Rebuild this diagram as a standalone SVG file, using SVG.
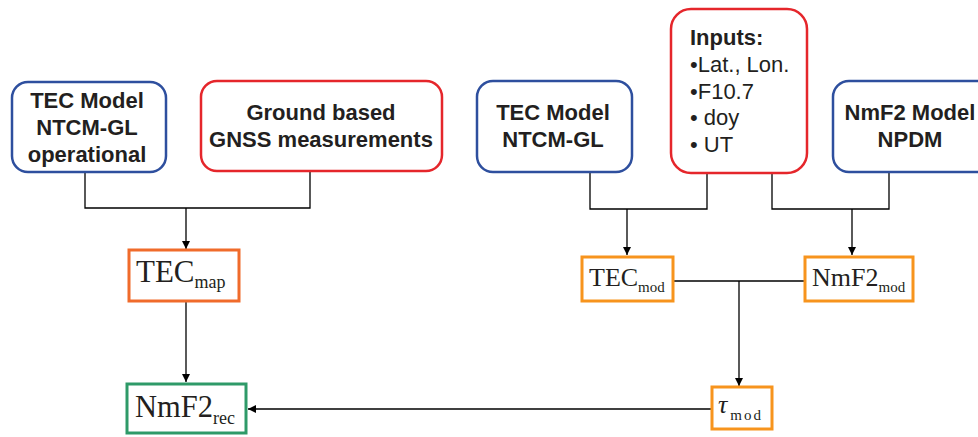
<svg xmlns="http://www.w3.org/2000/svg" width="978" height="437" viewBox="0 0 978 437">
<defs>
<marker id="ah" viewBox="0 0 10 10" refX="10" refY="5" markerWidth="8" markerHeight="8" markerUnits="userSpaceOnUse" orient="auto">
<path d="M0,0 L10,5 L0,10 z" fill="#000"/>
</marker>
</defs>
<style>
.rb{fill:#fff;stroke-width:2.5}
.blue{stroke:#2e4f9e}
.red{stroke:#e5262b}
.sq{fill:#fff;stroke-width:3}
.t{font-family:"Liberation Sans",Arial,sans-serif;font-weight:bold;font-size:22px;fill:#231f20;text-anchor:middle}
.l{font-family:"Liberation Sans",Arial,sans-serif;font-size:22px;fill:#231f20}
.s{font-family:"Liberation Serif","Times New Roman",serif;fill:#231f20}
.c{fill:none;stroke:#000;stroke-width:1.3}
</style>
<rect width="978" height="437" fill="#fff"/>
<g id="connectors">
<polyline class="c" points="85,172 85,208 310,208 310,171"/>
<line class="c" x1="186" y1="208" x2="186" y2="249" marker-end="url(#ah)"/>
<line class="c" x1="186" y1="301" x2="186" y2="382" marker-end="url(#ah)"/>
<polyline class="c" points="590,172 590,209 707,209 707,173"/>
<line class="c" x1="627" y1="209" x2="627" y2="255" marker-end="url(#ah)"/>
<polyline class="c" points="772,173 772,209 889,209 889,172"/>
<line class="c" x1="852" y1="209" x2="852" y2="255" marker-end="url(#ah)"/>
<line class="c" x1="673" y1="281" x2="805" y2="281"/>
<line class="c" x1="739" y1="281" x2="739" y2="386" marker-end="url(#ah)"/>
<line class="c" x1="711" y1="409" x2="248" y2="409" marker-end="url(#ah)"/>
</g>
<g id="tec-op">
<rect class="rb blue" x="12" y="82" width="154" height="90" rx="16"/>
<text class="t" x="87" y="108">TEC Model</text>
<text class="t" x="87" y="135">NTCM-GL</text>
<text class="t" x="87" y="162">operational</text>
</g>
<g id="gnss">
<rect class="rb red" x="201" y="81" width="241" height="90" rx="16"/>
<text class="t" x="321" y="120">Ground based</text>
<text class="t" x="321" y="147">GNSS measurements</text>
</g>
<g id="tec-model">
<rect class="rb blue" x="477" y="81" width="155" height="91" rx="16"/>
<text class="t" x="553" y="120">TEC Model</text>
<text class="t" x="553" y="147">NTCM-GL</text>
</g>
<g id="inputs">
<rect class="rb red" x="671" y="9" width="136" height="164" rx="20"/>
<text class="t" x="690" y="45" style="text-anchor:start">Inputs:</text>
<text class="l" x="690" y="72">•Lat., Lon.</text>
<text class="l" x="690" y="99">•F10.7</text>
<text class="l" x="690" y="125">• doy</text>
<text class="l" x="690" y="152">• UT</text>
</g>
<g id="nmf2-model">
<rect class="rb blue" x="833" y="81" width="160" height="91" rx="16"/>
<text class="t" x="910" y="120">NmF2 Model</text>
<text class="t" x="910" y="147">NPDM</text>
</g>
<g id="tec-map">
<rect class="sq" x="129" y="250" width="110" height="51" style="stroke:#f06b2b"/>
<text class="s" x="136" y="282" font-size="31">TEC<tspan font-size="18" dy="6">map</tspan></text>
</g>
<g id="tec-mod">
<rect class="sq" x="582" y="257" width="91" height="44" style="stroke:#f7941d"/>
<text class="s" x="589" y="286" font-size="26">TEC<tspan font-size="15" dy="6">mod</tspan></text>
</g>
<g id="nmf2-mod">
<rect class="sq" x="805" y="257" width="108" height="44" style="stroke:#f7941d"/>
<text class="s" x="812" y="286" font-size="26">NmF2<tspan font-size="15" dy="6">mod</tspan></text>
</g>
<g id="tau-mod">
<rect class="sq" x="712" y="387" width="60" height="42" style="stroke:#f7941d"/>
<text class="s" x="718" y="413" font-size="26" font-style="italic">τ<tspan font-size="15" font-style="normal" dy="7" dx="3" letter-spacing="2">mod</tspan></text>
</g>
<g id="nmf2-rec">
<rect class="sq" x="127" y="384" width="119" height="49" style="stroke:#2e9a68"/>
<text class="s" x="135" y="417" font-size="30.5">NmF2<tspan font-size="18" dy="7">rec</tspan></text>
</g>
</svg>
